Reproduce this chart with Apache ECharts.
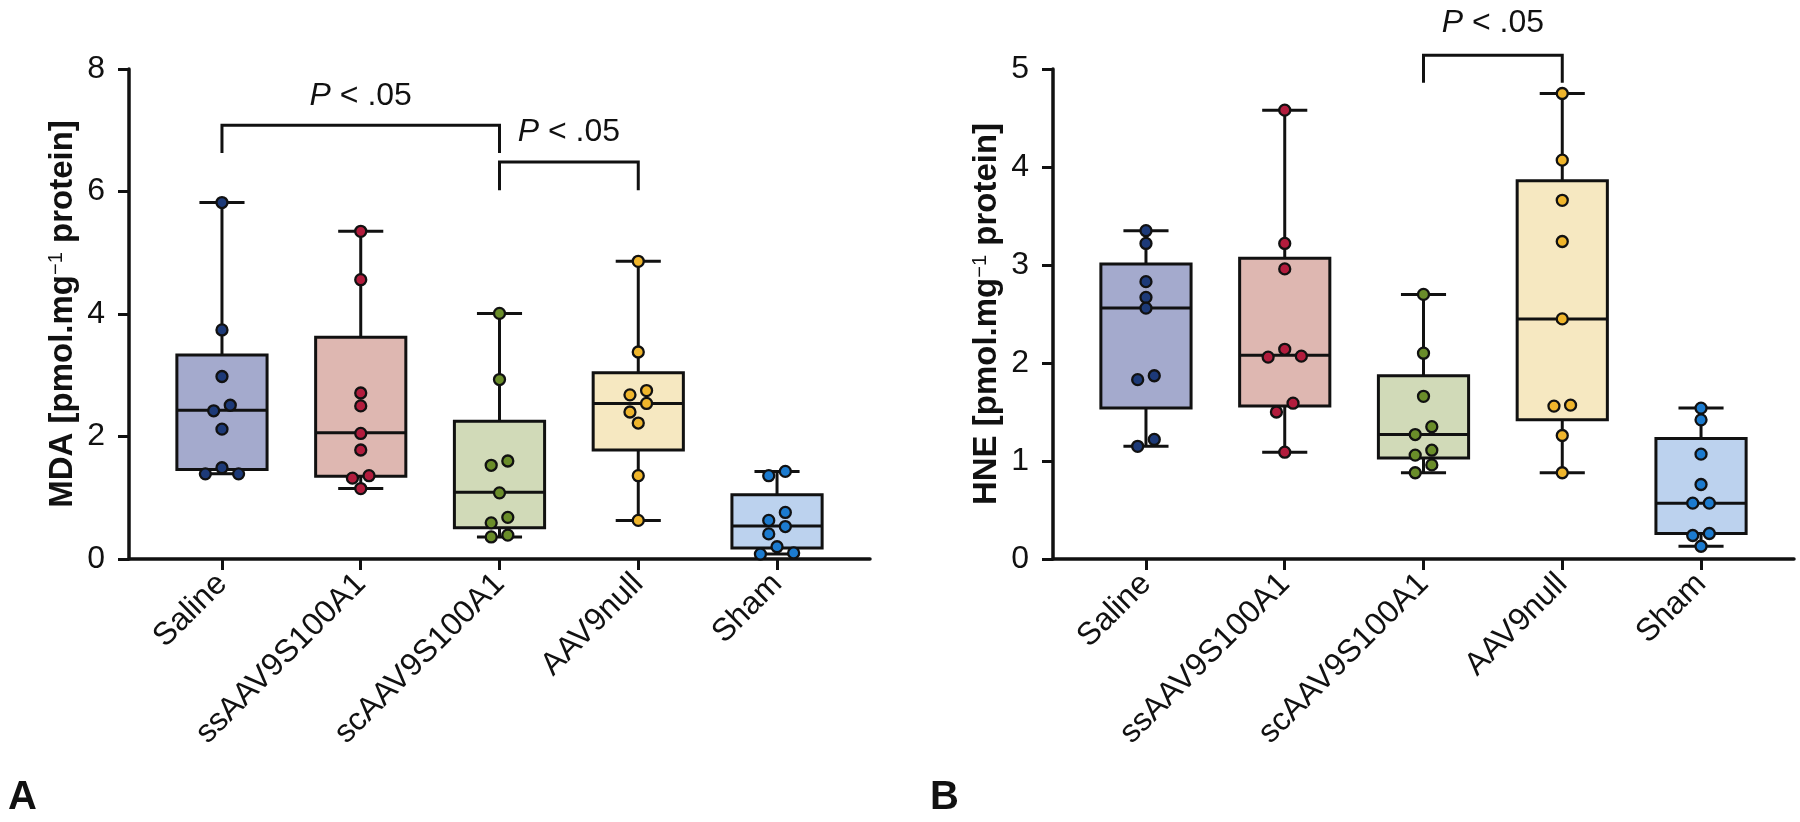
<!DOCTYPE html>
<html><head><meta charset="utf-8">
<script src="https://cdn.jsdelivr.net/npm/echarts@6/dist/echarts.min.js"></script>
<style>html,body{margin:0;padding:0;background:#fff}#c{width:1800px;height:822px}</style>
</head><body><div id="c"></div>
<script>
// ---------- data ----------
const categories = ['Saline', 'ssAAV9S100A1', 'scAAV9S100A1', 'AAV9null', 'Sham'];
const boxFill = ['#a4aacd', '#deb7b1', '#d1dab8', '#f6e8c1', '#bcd2ee'];
const dotColor = ['#1d3a78', '#b21c3d', '#6a8d2a', '#efb52c', '#1c7bcf'];

// Panel A: MDA
const mdaPoints = [
  [5.82, 3.74, 2.98, 2.51, 2.42, 2.12, 1.49, 1.39, 1.39],
  [5.35, 4.56, 2.71, 2.50, 2.05, 1.78, 1.36, 1.32, 1.15],
  [4.01, 2.93, 1.60, 1.53, 1.08, 0.68, 0.59, 0.39, 0.36],
  [4.86, 3.38, 2.75, 2.68, 2.54, 2.40, 2.22, 1.36, 0.63],
  [1.43, 1.36, 0.76, 0.63, 0.53, 0.41, 0.20, 0.10, 0.08]
];
// [min, q1, median, q3, max]
const mdaBoxes = [
  [1.39, 1.46, 2.43, 3.33, 5.82],
  [1.15, 1.35, 2.06, 3.62, 5.35],
  [0.36, 0.51, 1.09, 2.25, 4.01],
  [0.63, 1.78, 2.54, 3.04, 4.86],
  [0.08, 0.18, 0.54, 1.05, 1.43]
];
// Panel B: HNE
const hnePoints = [
  [3.35, 3.22, 2.83, 2.67, 2.56, 1.87, 1.83, 1.22, 1.15],
  [4.58, 3.22, 2.96, 2.14, 2.07, 2.06, 1.59, 1.50, 1.09],
  [2.70, 2.10, 1.66, 1.35, 1.27, 1.11, 1.06, 0.96, 0.88],
  [4.75, 4.07, 3.66, 3.24, 2.45, 1.57, 1.56, 1.26, 0.88],
  [1.54, 1.42, 1.07, 0.76, 0.57, 0.57, 0.26, 0.24, 0.13]
];
const hneBoxes = [
  [1.15, 1.54, 2.56, 3.01, 3.35],
  [1.09, 1.56, 2.08, 3.07, 4.58],
  [0.88, 1.03, 1.27, 1.87, 2.70],
  [0.88, 1.42, 2.45, 3.86, 4.75],
  [0.13, 0.26, 0.57, 1.23, 1.54]
];
const mdaAxis = { min: 0, max: 8, interval: 2 };
const hneAxis = { min: 0, max: 5, interval: 1 };
const mdaBrackets = [
  { from: 0, to: 2, top: 7.08, leg: 6.63, labelY: 7.56 },
  { from: 2, to: 3, top: 6.48, leg: 6.02, labelY: 6.97 }
];
const hneBrackets = [ { from: 2, to: 3, top: 5.14, leg: 4.86, labelY: 5.47 } ];
const pLabel = '{i|P} < .05';
const mdaName = 'MDA [pmol.mg{sup|\u22121} protein]';
const hneName = 'HNE [pmol.mg{sup|\u22121} protein]';

// ---------- layout / style ----------
const FONT = '"Liberation Sans", Arial, Helvetica, sans-serif';
const INK = '#111';
const GRID_W = 741, GRID_H = 490, GRID_TOP = 69;
const XMIN = -0.67, XMAX = 4.67;
const pxPerCat = GRID_W / (XMAX - XMIN);
const STEP = 8.3;      // horizontal jitter step, px
const NEAR = 9;        // px threshold for stacking neighbours

function swarmOffsets(values, pxPerUnit) {
  const s = values.map((v, i) => ({ v, i })).sort((a, b) => b.v - a.v);
  const chains = [];
  let cur = [s[0]];
  for (let k = 1; k < s.length; k++) {
    if ((cur[cur.length - 1].v - s[k].v) * pxPerUnit < NEAR) cur.push(s[k]);
    else { chains.push(cur); cur = [s[k]]; }
  }
  chains.push(cur);
  const off = new Array(values.length).fill(0);
  chains.forEach(c => {
    const n = c.length;
    if (n === 1) return;
    let rest = c.slice();
    let amp = STEP;
    if (n % 2 === 1) {
      const topGap = c[0].v - c[1].v, botGap = c[n - 2].v - c[n - 1].v;
      const centerIdx = topGap > botGap ? 0 : n - 1;
      rest = c.filter((_, k) => k !== centerIdx);
      if (n === 3) amp = 2 * STEP;
    }
    rest.forEach((p, k) => { off[p.i] = (k % 2 === 0 ? 1 : -1) * amp; });
  });
  return off;
}

function scatterData(points, axis) {
  const pxPerUnit = GRID_H / (axis.max - axis.min);
  const out = [];
  points.forEach((vals, ci) => {
    const off = swarmOffsets(vals, pxPerUnit);
    vals.forEach((v, k) => {
      out.push({ value: [ci + off[k] / pxPerCat, v],
        itemStyle: { color: dotColor[ci] } });
    });
  });
  return out;
}

function boxRender(params, api) {
  const x = api.value(0);
  const pMin = api.coord([x, api.value(1)]);
  const pQ1 = api.coord([x, api.value(2)]);
  const pMed = api.coord([x, api.value(3)]);
  const pQ3 = api.coord([x, api.value(4)]);
  const pMax = api.coord([x, api.value(5)]);
  const bw = api.size([1, 0])[0] * 0.65;
  const cap = bw * 0.5;
  const ls = { stroke: INK, lineWidth: 3, lineCap: 'butt' };
  const cx = pMed[0];
  return {
    type: 'group',
    children: [
      { type: 'line', shape: { x1: cx, y1: pQ3[1], x2: cx, y2: pMax[1] }, style: ls },
      { type: 'line', shape: { x1: cx, y1: pQ1[1], x2: cx, y2: pMin[1] }, style: ls },
      { type: 'line', shape: { x1: cx - cap / 2, y1: pMax[1], x2: cx + cap / 2, y2: pMax[1] }, style: ls },
      { type: 'line', shape: { x1: cx - cap / 2, y1: pMin[1], x2: cx + cap / 2, y2: pMin[1] }, style: ls },
      { type: 'rect', shape: { x: cx - bw / 2, y: pQ3[1], width: bw, height: pQ1[1] - pQ3[1] },
        style: { fill: boxFill[params.dataIndex], stroke: INK, lineWidth: 3 } },
      { type: 'line', shape: { x1: cx - bw / 2, y1: pMed[1], x2: cx + bw / 2, y2: pMed[1] }, style: ls }
    ]
  };
}

function labelRender(params, api) {
  const p = api.coord([api.value(0), api.value(1)]);
  return {
    type: 'text', x: p[0], y: p[1],
    style: {
      text: pLabel, fontSize: 32, fontFamily: FONT, fill: INK,
      align: 'center', verticalAlign: 'middle',
      rich: { i: { fontStyle: 'italic', fontSize: 32, fontFamily: FONT, fill: INK } }
    }
  };
}

function xAxisDef(gi) {
  return {
    type: 'value', gridIndex: gi, min: XMIN, max: XMAX,
    axisLine: { show: true, onZero: false, lineStyle: { color: INK, width: 3.5 } },
    splitLine: { show: false },
    axisTick: { show: true, customValues: [0, 1, 2, 3, 4], length: 11, lineStyle: { color: INK, width: 3 } },
    axisLabel: { customValues: [0, 1, 2, 3, 4], formatter: v => categories[Math.round(v)],
      rotate: 45, fontSize: 32, color: INK, fontFamily: FONT, margin: 20 }
  };
}
function yAxisDef(gi, axis, name) {
  return {
    type: 'value', gridIndex: gi, min: axis.min, max: axis.max, interval: axis.interval,
    name: name, nameLocation: 'middle', nameGap: 50,
    nameTextStyle: { fontSize: 33, fontWeight: 'bold', color: INK, fontFamily: FONT,
      rich: { sup: { fontSize: 20, fontWeight: 'normal', verticalAlign: 'top', color: INK, fontFamily: FONT } } },
    axisLine: { show: true, onZero: false, lineStyle: { color: INK, width: 3.5 } },
    splitLine: { show: false },
    axisTick: { show: true, length: 11, lineStyle: { color: INK, width: 3 } },
    axisLabel: { fontSize: 32, color: INK, fontFamily: FONT, margin: 24 }
  };
}

function bracketSeries(gi, brackets) {
  const out = [];
  brackets.forEach(b => {
    out.push({
      type: 'line', xAxisIndex: gi, yAxisIndex: gi, clip: false, symbol: 'none', silent: true,
      lineStyle: { color: INK, width: 3, cap: 'butt', join: 'miter' },
      data: [[b.from, b.leg], [b.from, b.top], [b.to, b.top], [b.to, b.leg]], z: 3
    });
  });
  out.push({
    type: 'custom', xAxisIndex: gi, yAxisIndex: gi, clip: false, silent: true, z: 4,
    renderItem: labelRender, encode: { x: 0, y: 1 },
    data: brackets.map(b => [(b.from + b.to) / 2, b.labelY])
  });
  return out;
}

const chart = echarts.init(document.getElementById('c'), null, { renderer: 'canvas' });
chart.setOption({
  animation: false,
  backgroundColor: '#fff',
  grid: [
    { left: 129, top: GRID_TOP, width: GRID_W, height: GRID_H },
    { left: 1053, top: GRID_TOP, width: GRID_W, height: GRID_H }
  ],
  xAxis: [xAxisDef(0), xAxisDef(1)],
  yAxis: [yAxisDef(0, mdaAxis, mdaName), yAxisDef(1, hneAxis, hneName)],
  series: [
    { type: 'custom', xAxisIndex: 0, yAxisIndex: 0, renderItem: boxRender, z: 2,
      encode: { x: 0, y: [1, 2, 3, 4, 5] }, data: mdaBoxes.map((b, i) => [i].concat(b)) },
    { type: 'custom', xAxisIndex: 1, yAxisIndex: 1, renderItem: boxRender, z: 2,
      encode: { x: 0, y: [1, 2, 3, 4, 5] }, data: hneBoxes.map((b, i) => [i].concat(b)) },
    { type: 'scatter', xAxisIndex: 0, yAxisIndex: 0, symbolSize: 11, z: 5,
      itemStyle: { borderColor: INK, borderWidth: 2.3, opacity: 1 }, data: scatterData(mdaPoints, mdaAxis) },
    { type: 'scatter', xAxisIndex: 1, yAxisIndex: 1, symbolSize: 11, z: 5,
      itemStyle: { borderColor: INK, borderWidth: 2.3, opacity: 1 }, data: scatterData(hnePoints, hneAxis) }
  ].concat(bracketSeries(0, mdaBrackets), bracketSeries(1, hneBrackets)),
  graphic: [
    { type: 'text', left: 8, top: 778, style: { text: 'A', font: 'bold 40px ' + FONT, fill: INK } },
    { type: 'text', left: 930, top: 778, style: { text: 'B', font: 'bold 40px ' + FONT, fill: INK } }
  ]
});
</script>
</body></html>
